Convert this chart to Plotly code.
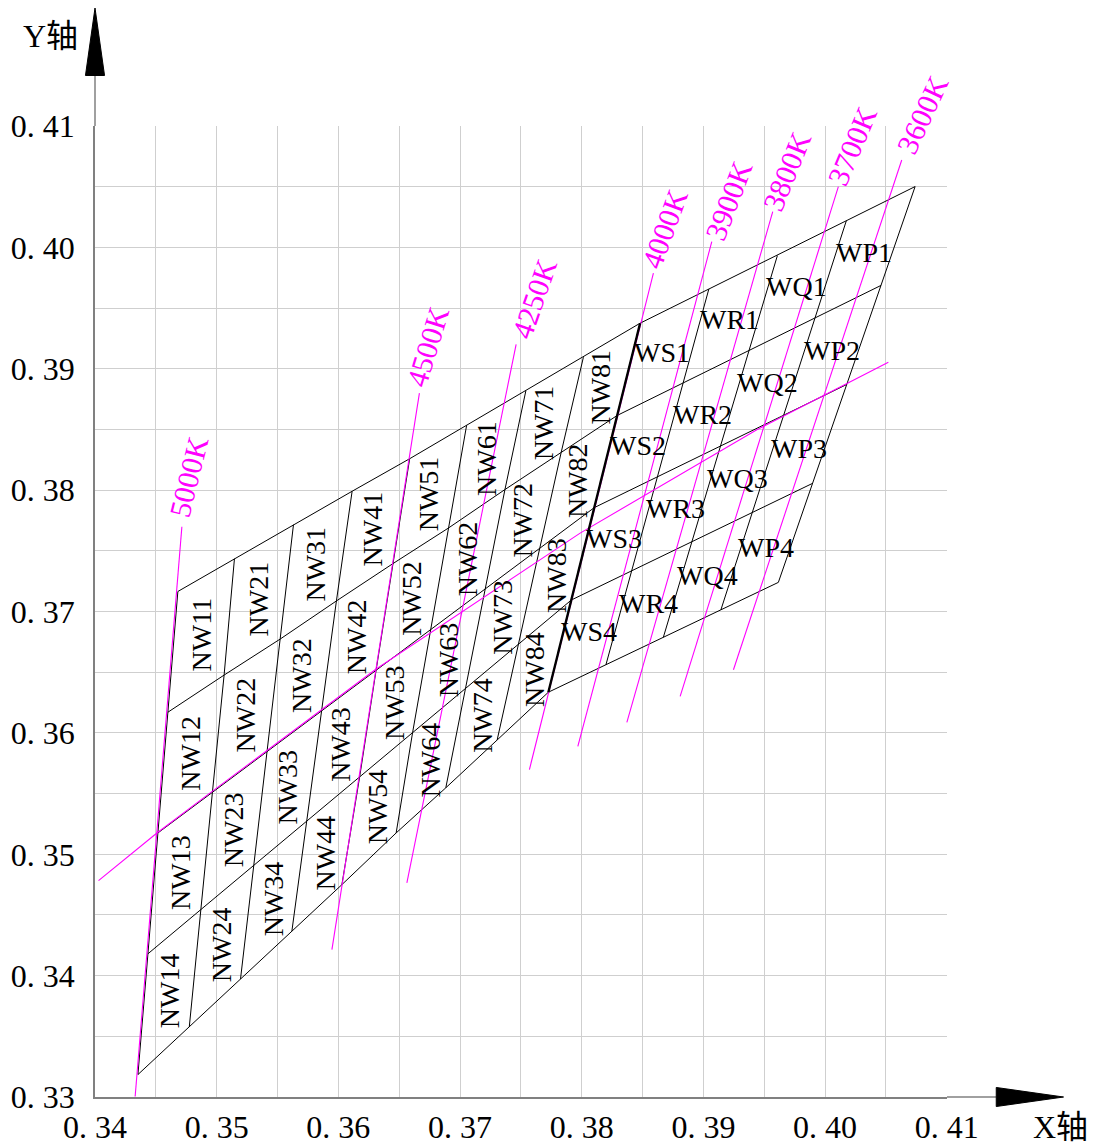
import plotly.graph_objects as go

# ---------------- data (CIE x, y) ----------------
# NW bin vertex grid: 5 row boundaries (top -> bottom) x 9 column boundaries (5000K -> 4000K)
nw_x = [
    [0.34681, 0.35146, 0.35631, 0.36113, 0.36586, 0.37054, 0.37541, 0.38014, 0.38480],
    [0.34599, 0.35061, 0.35522, 0.35984, 0.36446, 0.36905, 0.37369, 0.37831, 0.38292],
    [0.34517, 0.34965, 0.35414, 0.35862, 0.36310, 0.36758, 0.37207, 0.37655, 0.38103],
    [0.34435, 0.34870, 0.35305, 0.35740, 0.36175, 0.36610, 0.37045, 0.37480, 0.37915],
    [0.34353, 0.34775, 0.35196, 0.35618, 0.36029, 0.36475, 0.36883, 0.37305, 0.37726],
]
nw_y = [
    [0.37166, 0.37436, 0.37716, 0.37992, 0.38260, 0.38535, 0.38820, 0.39097, 0.39377],
    [0.36171, 0.36477, 0.36774, 0.37088, 0.37394, 0.37689, 0.38006, 0.38311, 0.38617],
    [0.35176, 0.35511, 0.35846, 0.36181, 0.36517, 0.36852, 0.37187, 0.37522, 0.37857],
    [0.34180, 0.34545, 0.34909, 0.35274, 0.35638, 0.36003, 0.36367, 0.36732, 0.37096],
    [0.33185, 0.33579, 0.33973, 0.34367, 0.34750, 0.35176, 0.35548, 0.35942, 0.36336],
]
nw_cols = ["NW1", "NW2", "NW3", "NW4", "NW5", "NW6", "NW7", "NW8"]

# W bin vertex grid: 5 row boundaries x 5 column boundaries (4000K -> 3600K)
w_x = [
    [0.38480, 0.39045, 0.39608, 0.40175, 0.40740],
    [0.38292, 0.38834, 0.39376, 0.39917, 0.40459],
    [0.38103, 0.38622, 0.39141, 0.39659, 0.40178],
    [0.37915, 0.38411, 0.38906, 0.39402, 0.39897],
    [0.37726, 0.38199, 0.38671, 0.39144, 0.39616],
]
w_y = [
    [0.39377, 0.39659, 0.39934, 0.40222, 0.40503],
    [0.38617, 0.38885, 0.39153, 0.39420, 0.39688],
    [0.37857, 0.38111, 0.38365, 0.38618, 0.38872],
    [0.37096, 0.37336, 0.37577, 0.37817, 0.38057],
    [0.36336, 0.36562, 0.36789, 0.37015, 0.37241],
]
w_cols = ["WS", "WR", "WQ", "WP"]
row_ids = ["1", "2", "3", "4"]

# isotemperature lines
cct_names = ["5000K", "4500K", "4250K", "4000K", "3900K", "3800K", "3700K", "3600K"]
iso_x0 = [0.34330, 0.35947, 0.36563, 0.37570, 0.37968, 0.38371, 0.38809, 0.39247]
iso_y0 = [0.33004, 0.34215, 0.34764, 0.35698, 0.35890, 0.36087, 0.36301, 0.36521]
iso_x1 = [0.34714, 0.36666, 0.37461, 0.38589, 0.39069, 0.39570, 0.40109, 0.40630]
iso_y1 = [0.37699, 0.38801, 0.39203, 0.39789, 0.40049, 0.40297, 0.40503, 0.40722]

# Planckian locus
planck_x = [0.34029, 0.34509, 0.34947, 0.36302, 0.37987, 0.39439, 0.40520]
planck_y = [0.34783, 0.35176, 0.35506, 0.36521, 0.37647, 0.38498, 0.39056]

# axis ticks
x_ticks = [0.34, 0.345, 0.35, 0.355, 0.36, 0.365, 0.37, 0.375, 0.38, 0.385, 0.39, 0.395, 0.40, 0.405, 0.41]
x_tick_text = ["0. 34", "", "0. 35", "", "0. 36", "", "0. 37", "", "0. 38", "", "0. 39", "", "0. 40", "", "0. 41"]
y_ticks = [0.33, 0.335, 0.34, 0.345, 0.35, 0.355, 0.36, 0.365, 0.37, 0.375, 0.38, 0.385, 0.39, 0.395, 0.40, 0.405, 0.41]
y_tick_text = ["0. 33", "", "0. 34", "", "0. 35", "", "0. 36", "", "0. 37", "", "0. 38", "", "0. 39", "", "0. 40", "", "0. 41"]

# ---------------- styles ----------------
SERIF = "Liberation Serif, DejaVu Serif, serif"
MIXED = "Liberation Serif, Noto Sans CJK SC, serif"
MAGENTA = "#ff00ff"
iso_label_angle = [-76, -73, -71, -70, -69, -68, -67, -65]
iso_label_shift = [(7, 50), (8, 47), (18, 46), (11, 45), (17, 41), (14, 40), (14, 41), (21, 45)]

fig = go.Figure()


def add_line(xs, ys, color="black", width=1):
    fig.add_trace(go.Scatter(x=xs, y=ys, mode="lines", line=dict(color=color, width=width),
                             hoverinfo="skip", showlegend=False))


def add_bin_grid(gx, gy):
    nr, nc = len(gx), len(gx[0])
    for r in range(nr):
        add_line(gx[r], gy[r])
    for c in range(nc):
        add_line([gx[r][c] for r in range(nr)], [gy[r][c] for r in range(nr)])


add_bin_grid(nw_x, nw_y)
add_bin_grid(w_x, w_y)

# magenta isotherms and locus
for i in range(len(cct_names)):
    add_line([iso_x0[i], iso_x1[i]], [iso_y0[i], iso_y1[i]], MAGENTA, 1.1)
add_line(planck_x, planck_y, MAGENTA, 1.1)

# bold 4000K boundary between NW and W groups
add_line([row[-1] for row in nw_x], [row[-1] for row in nw_y], "black", 2.4)

annotations = []


def bin_labels(gx, gy, cols, angle):
    for c, cname in enumerate(cols):
        for r, rname in enumerate(row_ids):
            cx = (gx[r][c] + gx[r][c + 1] + gx[r + 1][c] + gx[r + 1][c + 1]) / 4
            cy = (gy[r][c] + gy[r][c + 1] + gy[r + 1][c] + gy[r + 1][c + 1]) / 4
            annotations.append(dict(x=cx, y=cy, xref="x", yref="y", text=cname + rname,
                                    showarrow=False, textangle=angle,
                                    font=dict(family=SERIF, size=28, color="black"),
                                    xanchor="center", yanchor="middle"))


bin_labels(nw_x, nw_y, nw_cols, -90)
bin_labels(w_x, w_y, w_cols, 0)

for i, name in enumerate(cct_names):
    annotations.append(dict(x=iso_x1[i], y=iso_y1[i], xref="x", yref="y", text=name,
                            showarrow=False, textangle=iso_label_angle[i],
                            xshift=iso_label_shift[i][0], yshift=iso_label_shift[i][1],
                            font=dict(family=SERIF, size=30, color=MAGENTA),
                            xanchor="center", yanchor="middle"))

# axis titles
annotations.append(dict(x=-0.0526, y=1.0922, xref="paper", yref="paper", text="Y轴", showarrow=False,
                        font=dict(family=MIXED, size=32, color="black"), xanchor="center", yanchor="middle"))
annotations.append(dict(x=1.1329, y=-0.0314, xref="paper", yref="paper", text="X轴", showarrow=False,
                        font=dict(family=MIXED, size=32, color="black"), xanchor="center", yanchor="middle"))

shapes = [
    dict(type="line", xref="paper", yref="paper", x0=0, y0=1, x1=0, y1=1.052,
         line=dict(color="#808080", width=1.5)),
    dict(type="path", xref="paper", yref="paper",
         path="M -0.0112,1.052 L 0.0112,1.052 L 0,1.1215 Z", fillcolor="black", line=dict(color="black", width=1)),
    dict(type="line", xref="paper", yref="paper", x0=1, y0=0, x1=1.0578, y1=0,
         line=dict(color="#808080", width=1.5)),
    dict(type="path", xref="paper", yref="paper",
         path="M 1.0578,-0.0098 L 1.0578,0.0098 L 1.1368,0 Z", fillcolor="black", line=dict(color="black", width=1)),
]

axis_common = dict(showgrid=True, gridcolor="#cfcfcf", gridwidth=1, zeroline=False,
                   showline=True, linecolor="#808080", linewidth=1.5, automargin=False,
                   ticks="outside", tickcolor="rgba(0,0,0,0)",
                   tickfont=dict(family=SERIF, size=32, color="black"))

fig.update_layout(
    width=1094, height=1147,
    margin=dict(l=95, r=147, t=126, b=50, autoexpand=False),
    paper_bgcolor="white", plot_bgcolor="white",
    xaxis=dict(range=[0.34, 0.41002], tickmode="array", tickvals=x_ticks, ticktext=x_tick_text,
               ticklen=1, **axis_common),
    yaxis=dict(range=[0.33, 0.41002], tickmode="array", tickvals=y_ticks, ticktext=y_tick_text,
               ticklen=12, **axis_common),
    annotations=annotations,
    shapes=shapes,
    showlegend=False,
)

fig.write_html("out.html",
               config={"displayModeBar": False},
               post_script="document.body.style.margin='0';document.body.style.padding='0';"
                           "document.body.style.overflow='hidden';")
